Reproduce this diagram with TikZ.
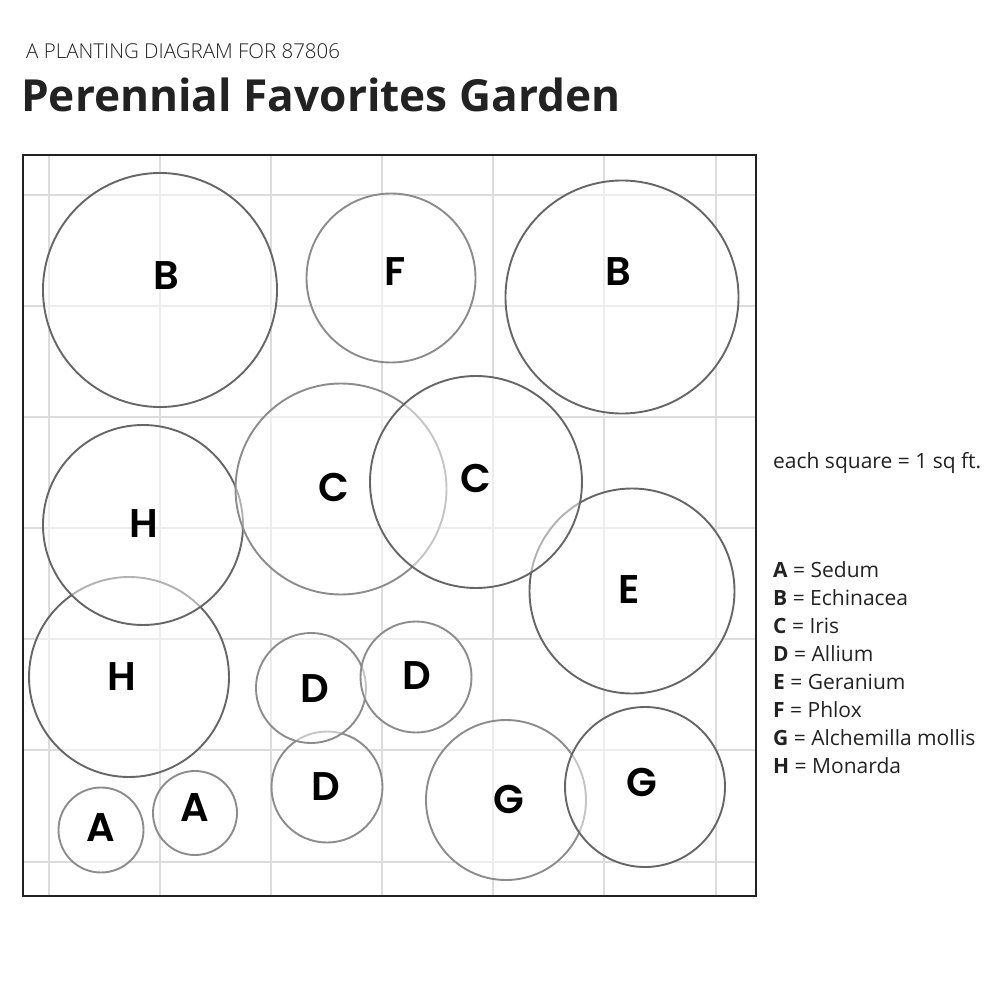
\documentclass[tikz,border=0pt]{standalone}
\usepackage{fontspec}
\setmainfont{Open Sans}
\newfontfamily\plantfont{Poppins}[BoldFont={Poppins SemiBold}]
\newfontfamily\thinfont{Open Sans Light}
\usepackage{tikz}
\definecolor{gridgray}{HTML}{DCDCDC}
\definecolor{darkring}{HTML}{666666}
\definecolor{lightring}{HTML}{8C8C8C}
\definecolor{inktext}{HTML}{222222}

\tikzset{
  gridline/.style={gridgray, line width=2pt},
  bedframe/.style={draw=inktext, line width=2.4pt},
  plant/.style={line width=1.9pt, fill=white, fill opacity=0.5},
  plantlabel/.style={inner sep=0pt, text=black,
    font=\plantfont\bfseries\fontsize{40}{40}\selectfont},
  keytext/.style={inner sep=0pt, anchor=base west, text=inktext,
    font=\fontsize{21}{24}\selectfont}
}

\begin{document}
\begin{tikzpicture}[x=1pt, y=-1pt]
      \useasboundingbox (0,0) rectangle (1000,1000);

      % heading
      \node[anchor=base west, inner sep=0pt, text=inktext,
        font=\thinfont\fontsize{20.5}{24}\selectfont] (subtitle) at (26,59)
        {A PLANTING DIAGRAM FOR 87806};
      \node[anchor=base west, inner sep=0pt, text=inktext,
        font=\bfseries\fontsize{44.2}{50}\selectfont] (title) at (21,112)
        {Perennial Favorites Garden};

      % square foot grid
      \foreach \gx in {49,160,271,382,493,604,716}
        \draw[gridline] (\gx,155) -- (\gx,896);
      \foreach \gy in {195,306,417,528,639,750,862}
        \draw[gridline] (23,\gy) -- (756,\gy);

      % plants, later ones lie over earlier ones
      \foreach \cx/\cy/\r/\tone in {
        129/677/100/darkring,   % H
        143/525/100/darkring,   % H
        632/591/102.5/darkring, % E
        341/489/105.5/lightring,% C
        476/482/106/darkring,   % C
        506/800/80/lightring,   % G
        645/787/80/darkring,    % G
        327/787/55.5/lightring, % D
        311/688/55/lightring,   % D
        416/677/55.5/lightring, % D
        101/830/42.5/lightring, % A
        195/813/42/lightring,   % A
        160/290/117/darkring,   % B
        622/297/116.5/darkring, % B
        391/278/84.5/lightring} % F
        \draw[plant, draw=\tone] (\cx,\cy) circle (\r);

      \foreach \lx/\ly/\txt [count=\i] in {
        166/276/B, 395/272/F, 618/272/B,
        334/487/C, 476/478/C, 144/524/H, 122/677/H, 629/590/E,
        315/689/D, 417/676/D, 326/787/D,
        509/799/G, 642/782/G, 101/828/A, 195/808/A}
        \node[plantlabel] (lbl\i) at (\lx,\ly) {\txt};

      \draw[bedframe] (23,155) rectangle (756,896);

      % key
      \node[keytext] (scale) at (773,468) {each square = 1 sq ft.};
      \foreach \k/\name [count=\j from 0] in {
        A/Sedum, B/Echinacea, C/Iris, D/Allium, E/Geranium,
        F/Phlox, G/Alchemilla mollis, H/Monarda}
        \node[keytext] (key\k) at (773,577+28*\j) {\textbf{\k} = \name};
    \end{tikzpicture}
\end{document}
